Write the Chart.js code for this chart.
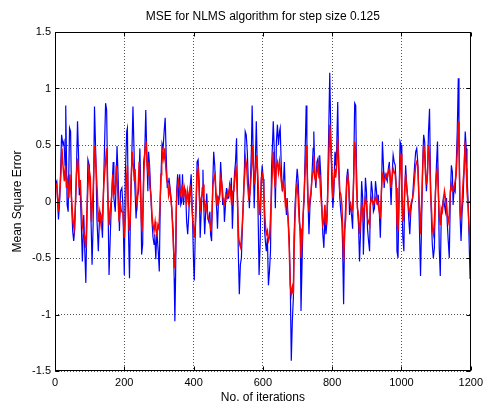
<!DOCTYPE html>
<html>
<head>
<meta charset="utf-8">
<title>MSE for NLMS algorithm</title>
<script src="https://cdn.jsdelivr.net/npm/chart.js@4.4.1/dist/chart.umd.min.js"></script>
<style>
  body { margin: 0; background: #fff; }
  #wrap { width: 488px; height: 405px; }
</style>
</head>
<body>
<div id="wrap"><canvas id="mse" width="488" height="405"></canvas></div>
<script>

// Tick positions
var xTicks = [0, 200, 400, 600, 800, 1000, 1200];
var yTicks = [-1.5, -1, -0.5, 0, 0.5, 1, 1.5];

// [iteration, error] - blue trace
var blueMse = [
  [1,0.15],[5,0.18],[10,-0.16],[14,0.03],[19,0.59],[23,0.50],[26,0.53],[29,0.32],[31,0.85],[35,-0.03],
  [38,-0.09],[42,0.65],[45,0.62],[48,-0.03],[51,-0.26],[54,-0.35],[57,-0.24],[61,0.15],[65,0.71],[68,0.41],
  [70,0.06],[72,0.18],[76,-0.21],[79,-0.53],[83,-0.12],[86,-0.44],[89,-0.72],[92,-0.18],[95,0.37],[99,0.32],
  [103,-0.03],[107,-0.56],[110,-0.21],[114,0.84],[118,0.38],[121,-0.15],[125,-0.44],[129,-0.09],[133,-0.12],[137,-0.32],
  [141,0.24],[146,0.87],[149,0.81],[152,0.18],[156,-0.65],[160,-0.26],[164,0.09],[168,0.35],[170,0.03],[174,-0.09],
  [179,0.49],[182,0.24],[186,-0.26],[189,0.09],[193,0.12],[196,-0.03],[200,-0.65],[203,0.24],[207,0.62],[209,0.65],
  [212,-0.26],[215,-0.68],[218,-0.06],[222,0.44],[225,0.84],[228,0.47],[230,0.18],[234,-0.15],[237,0.03],[241,0.09],
  [245,0.47],[248,0.03],[250,-0.47],[253,-0.38],[256,0.35],[259,0.43],[262,0.81],[265,0.41],[268,0.09],[270,0.44],
  [273,0.32],[276,0.09],[280,-0.18],[283,-0.32],[286,-0.38],[288,-0.29],[291,-0.51],[294,-0.26],[298,-0.44],[301,-0.62],
  [304,0.03],[307,0.32],[309,0.51],[312,0.47],[315,0.62],[318,0.74],[321,0.41],[324,0.12],[327,0.18],[329,0.21],
  [332,0.12],[335,0.03],[338,-0.12],[341,-0.26],[344,-0.68],[346,-1.06],[348,-0.68],[351,0.09],[354,0.24],[357,-0.03],
  [360,0.24],[363,-0.03],[366,0.0],[368,0.24],[371,-0.03],[374,0.12],[377,0.09],[380,-0.18],[383,-0.29],[386,-0.12],
  [389,0.09],[393,0.24],[396,-0.03],[400,-0.55],[402,-0.70],[405,-0.26],[408,-0.03],[410,0.35],[413,0.37],[416,0.18],
  [419,-0.32],[422,-0.09],[425,0.12],[427,0.28],[429,0.0],[432,-0.29],[435,-0.09],[438,0.07],[441,-0.15],[444,-0.18],
  [447,-0.09],[449,-0.29],[452,-0.35],[455,0.12],[458,0.44],[461,0.32],[464,0.06],[467,-0.09],[469,-0.24],[472,0.03],
  [475,0.06],[478,0.35],[481,0.18],[484,-0.03],[487,0.03],[489,-0.18],[492,-0.03],[495,0.12],[498,0.03],[501,0.03],
  [504,0.15],[507,0.09],[509,0.21],[512,-0.24],[515,0.03],[518,0.24],[521,0.35],[524,0.56],[527,0.0],[529,-0.44],
  [532,-0.82],[535,-0.56],[538,-0.50],[541,-0.21],[544,0.03],[547,0.32],[549,0.62],[552,0.59],[555,0.44],[558,0.18],
  [561,-0.06],[564,0.18],[567,0.47],[569,0.85],[572,0.44],[575,-0.06],[578,0.32],[581,0.71],[584,0.29],[587,-0.26],
  [589,-0.65],[592,-0.38],[595,0.18],[598,0.32],[601,0.20],[603,0.06],[605,-0.26],[608,-0.38],[610,-0.44],[613,-0.32],
  [616,-0.74],[619,-0.62],[622,-0.44],[625,0.29],[628,0.53],[630,0.71],[633,0.44],[636,-0.06],[639,0.53],[642,0.68],
  [645,0.50],[648,0.62],[650,0.65],[653,0.32],[656,0.09],[659,0.15],[662,0.35],[665,0.03],[668,-0.12],[670,0.03],
  [673,-0.18],[676,-0.32],[679,-0.71],[682,-1.41],[685,-1.06],[688,-0.85],[690,-0.32],[693,-0.03],[696,0.15],[699,0.29],
  [702,0.18],[705,-0.09],[708,-0.32],[710,-0.97],[713,-0.56],[716,-0.15],[719,0.03],[722,0.44],[725,0.85],[727,0.53],
  [730,0.03],[733,-0.29],[736,-0.03],[739,0.06],[742,0.26],[745,0.47],[747,0.62],[750,0.24],[753,0.12],[756,0.35],
  [759,0.38],[762,0.24],[764,0.41],[767,0.24],[770,-0.03],[773,-0.29],[776,-0.41],[779,-0.12],[782,-0.29],[785,-0.18],
  [787,0.12],[790,0.62],[793,1.14],[796,0.62],[799,0.15],[802,-0.06],[805,0.09],[808,0.44],[810,0.32],[813,0.47],
  [816,0.88],[819,0.29],[822,0.03],[825,-0.09],[828,-0.18],[830,-0.38],[833,-0.91],[836,-0.26],[839,-0.03],[842,0.21],
  [845,0.29],[848,0.15],[850,-0.12],[853,0.0],[856,-0.12],[859,-0.24],[862,0.26],[865,0.87],[868,0.85],[870,0.32],
  [873,-0.06],[876,-0.21],[879,-0.53],[882,-0.26],[885,0.18],[888,0.03],[890,-0.47],[893,-0.15],[896,0.21],[899,0.09],
  [902,-0.24],[905,-0.35],[908,-0.44],[910,-0.06],[913,0.18],[916,0.09],[919,-0.09],[922,-0.06],[925,0.18],[928,0.09],
  [930,-0.03],[933,0.06],[936,-0.09],[939,-0.32],[942,0.03],[945,0.53],[948,0.32],[950,0.12],[953,0.24],[956,0.21],
  [959,0.18],[962,0.29],[965,0.35],[968,0.12],[970,-0.03],[973,0.24],[976,0.41],[979,0.35],[982,0.32],[985,0.12],
  [987,-0.44],[990,-0.50],[993,0.03],[996,0.53],[999,0.50],[1001,0.03],[1004,-0.32],[1007,-0.44],[1009,0.03],[1012,0.32],
  [1015,0.15],[1018,0.03],[1021,-0.15],[1024,-0.29],[1027,-0.09],[1029,-0.03],[1032,0.03],[1035,0.18],[1038,0.32],[1041,0.44],
  [1044,0.47],[1047,0.35],[1049,0.18],[1052,-0.26],[1055,-0.66],[1058,-0.21],[1061,0.32],[1064,0.59],[1067,0.53],[1069,0.32],
  [1072,0.09],[1075,0.24],[1078,0.62],[1081,0.82],[1084,0.15],[1087,-0.21],[1089,-0.38],[1092,-0.50],[1095,-0.41],[1098,0.09],
  [1101,0.32],[1104,0.53],[1107,0.03],[1109,-0.41],[1112,-0.66],[1115,-0.09],[1118,-0.06],[1121,0.03],[1124,-0.03],[1127,-0.09],
  [1130,0.03],[1132,-0.18],[1135,-0.35],[1138,-0.50],[1141,0.03],[1144,0.32],[1147,0.26],[1149,-0.03],[1152,0.12],[1155,0.09],
  [1158,0.32],[1161,0.62],[1164,1.09],[1166,0.62],[1169,-0.12],[1172,-0.35],[1175,-0.09],[1178,0.03],[1181,0.32],[1184,0.62],
  [1187,0.47],[1189,0.24],[1192,0.03],[1195,-0.32],[1198,-0.68],[1200,-0.60]
];

// [iteration, error] - red trace
var redMse = [
  [1,0.12],[5,0.15],[10,-0.09],[13,0.06],[17,0.24],[20,0.47],[23,0.32],[27,0.18],[30,0.32],[33,0.12],
  [36,0.18],[40,0.03],[43,0.24],[46,0.09],[49,-0.03],[52,-0.18],[55,-0.24],[58,-0.09],[62,0.24],[65,0.38],
  [68,0.24],[70,0.12],[73,0.19],[76,-0.03],[79,-0.21],[82,-0.26],[86,-0.32],[89,-0.41],[92,-0.09],[95,0.12],
  [98,0.29],[102,0.21],[105,-0.18],[109,0.03],[111,0.18],[115,0.50],[118,0.32],[122,0.09],[125,-0.18],[129,-0.09],
  [133,-0.21],[137,-0.12],[141,0.15],[145,0.32],[149,0.47],[152,0.09],[156,-0.21],[160,-0.06],[164,0.06],[167,0.24],
  [169,0.15],[173,0.06],[177,0.32],[181,0.09],[185,-0.18],[189,-0.03],[192,-0.09],[196,-0.09],[200,-0.32],[203,-0.15],
  [206,0.18],[209,0.32],[211,-0.03],[214,-0.26],[217,-0.18],[220,0.21],[223,0.44],[226,0.32],[229,0.18],[231,0.29],
  [234,0.03],[237,-0.03],[240,0.12],[243,0.35],[246,0.15],[249,-0.15],[251,-0.26],[254,-0.03],[257,0.29],[260,0.47],
  [263,0.53],[266,0.32],[269,0.24],[271,0.35],[274,0.12],[277,0.06],[280,-0.12],[283,-0.21],[286,-0.26],[289,-0.18],
  [291,-0.24],[294,-0.29],[297,-0.21],[300,-0.24],[303,-0.03],[306,0.24],[308,0.32],[311,0.44],[314,0.38],[317,0.47],
  [320,0.29],[323,0.18],[326,0.15],[328,0.06],[331,0.12],[334,0.03],[337,-0.06],[340,-0.26],[343,-0.47],[345,-0.59],
  [348,-0.44],[350,-0.06],[353,0.12],[356,0.18],[359,0.12],[362,0.06],[365,0.09],[367,0.15],[370,0.03],[373,0.12],
  [376,0.06],[379,0.0],[382,0.09],[385,0.0],[388,0.09],[390,0.12],[393,0.03],[396,-0.09],[399,-0.21],[402,-0.32],
  [405,-0.18],[408,0.09],[410,0.26],[413,0.29],[416,0.09],[419,-0.09],[422,0.03],[425,0.06],[428,0.15],[430,0.03],
  [433,-0.06],[436,-0.03],[439,-0.09],[442,-0.15],[445,-0.15],[448,-0.21],[450,-0.26],[453,-0.12],[456,0.15],[459,0.21],
  [462,0.24],[465,0.06],[468,-0.03],[470,0.03],[473,0.0],[476,0.06],[479,0.21],[482,0.15],[485,0.03],[488,-0.03],
  [490,0.0],[493,0.06],[496,0.03],[499,0.09],[502,0.06],[505,0.15],[508,0.03],[510,-0.03],[513,0.09],[516,0.09],
  [519,0.21],[522,0.32],[525,0.15],[528,-0.12],[530,-0.32],[533,-0.38],[536,-0.41],[539,-0.29],[542,-0.12],[545,0.12],
  [548,0.26],[550,0.38],[553,0.32],[556,0.15],[559,0.03],[562,0.06],[565,0.18],[568,0.32],[570,0.50],[573,0.32],
  [576,0.15],[579,0.26],[582,0.41],[585,0.26],[588,0.03],[590,-0.12],[593,-0.03],[596,0.21],[599,0.24],[602,0.15],
  [605,-0.09],[608,-0.24],[610,-0.29],[613,-0.26],[616,-0.35],[619,-0.32],[622,-0.15],[625,0.09],[628,0.32],[630,0.44],
  [633,0.24],[636,0.12],[639,0.32],[642,0.35],[645,0.26],[648,0.35],[650,0.29],[653,0.18],[656,0.12],[659,0.18],
  [662,0.09],[665,-0.03],[668,0.0],[670,-0.06],[673,-0.15],[676,-0.41],[679,-0.74],[682,-0.82],[685,-0.76],[688,-0.82],
  [690,-0.44],[693,-0.12],[696,0.09],[699,0.15],[702,0.03],[705,-0.18],[708,-0.24],[710,-0.50],[713,-0.35],[716,-0.12],
  [719,0.06],[722,0.26],[725,0.50],[727,0.32],[730,0.03],[733,-0.09],[736,0.03],[739,0.09],[742,0.21],[745,0.26],
  [747,0.41],[750,0.21],[753,0.18],[756,0.26],[759,0.32],[762,0.21],[764,0.24],[767,0.06],[770,-0.06],[773,-0.21],
  [776,-0.18],[779,-0.03],[782,-0.21],[785,-0.12],[787,0.03],[790,0.35],[793,0.68],[796,0.47],[799,0.32],[802,0.03],
  [805,0.18],[808,0.29],[810,0.21],[813,0.32],[816,0.56],[819,0.32],[822,0.09],[825,0.06],[828,-0.03],[830,-0.21],
  [833,-0.53],[836,-0.26],[839,-0.15],[842,0.15],[845,0.24],[848,0.12],[850,0.0],[853,-0.03],[856,-0.09],[859,-0.06],
  [862,0.18],[865,0.53],[868,0.44],[870,0.15],[873,-0.06],[876,-0.12],[879,-0.29],[882,-0.18],[885,-0.03],[888,-0.06],
  [890,-0.18],[893,-0.03],[896,0.03],[899,-0.03],[902,-0.15],[905,-0.18],[908,-0.21],[910,-0.03],[913,0.03],[916,0.0],
  [919,-0.03],[922,0.0],[925,0.03],[928,0.0],[930,0.03],[933,-0.03],[936,-0.09],[939,-0.15],[942,0.09],[945,0.24],
  [948,0.21],[950,0.18],[953,0.21],[956,0.24],[959,0.21],[962,0.26],[965,0.29],[968,0.21],[970,0.12],[973,0.21],
  [976,0.29],[979,0.26],[982,0.24],[985,0.12],[987,-0.18],[990,-0.26],[993,0.03],[996,0.32],[999,0.42],[1001,0.15],
  [1004,-0.18],[1007,-0.12],[1009,0.09],[1012,0.24],[1015,0.12],[1018,0.03],[1021,-0.06],[1024,-0.12],[1027,-0.03],[1029,0.0],
  [1032,0.03],[1035,0.09],[1038,0.21],[1041,0.32],[1044,0.35],[1047,0.32],[1049,0.15],[1052,-0.06],[1055,-0.29],[1058,-0.03],
  [1061,0.26],[1064,0.50],[1067,0.41],[1069,0.26],[1072,0.15],[1075,0.24],[1078,0.50],[1081,0.41],[1084,0.09],[1087,-0.09],
  [1089,-0.24],[1092,-0.29],[1095,-0.18],[1098,0.06],[1101,0.24],[1104,0.29],[1107,0.03],[1109,-0.12],[1112,-0.21],[1115,-0.06],
  [1118,-0.09],[1121,0.0],[1124,0.09],[1127,0.03],[1130,-0.06],[1132,-0.12],[1135,-0.18],[1138,-0.12],[1141,0.09],[1144,0.15],
  [1147,0.09],[1149,0.09],[1152,0.12],[1155,0.18],[1158,0.24],[1161,0.44],[1164,0.71],[1166,0.50],[1169,-0.06],[1172,-0.15],
  [1175,0.0],[1178,0.18],[1181,0.29],[1184,0.53],[1187,0.29],[1189,0.09],[1192,-0.03],[1195,-0.21],[1198,-0.35],[1200,-0.41]
];

Chart.defaults.font.family = "'Liberation Sans', Arial, sans-serif";
Chart.defaults.font.size = 11;
Chart.defaults.color = '#000';

// Matlab style box round the axes, with inward ticks on all four sides
var axesBox = {
  id: 'axesBox',
  afterDraw: function (chart) {
    var ctx = chart.ctx;
    var a = chart.chartArea;
    var x = chart.scales.x, y = chart.scales.y;
    var l = Math.round(a.left) + 0.5, r = Math.round(a.right) - 0.5;
    var t = Math.round(a.top) + 0.5, b = Math.round(a.bottom) - 0.5;
    ctx.save();
    ctx.strokeStyle = '#000';
    ctx.lineWidth = 1;
    ctx.beginPath();
    xTicks.forEach(function (v) {
      var px = Math.round(x.getPixelForValue(v)) + 0.5;
      ctx.moveTo(px, b); ctx.lineTo(px, b - 4);
      ctx.moveTo(px, t); ctx.lineTo(px, t + 4);
    });
    yTicks.forEach(function (v) {
      var py = Math.round(y.getPixelForValue(v)) + 0.5;
      ctx.moveTo(l, py); ctx.lineTo(l + 4, py);
      ctx.moveTo(r, py); ctx.lineTo(r - 4, py);
    });
    ctx.stroke();
    ctx.strokeRect(l, t, r - l, b - t);
    ctx.restore();
  }
};

function toPoints(list) {
  return list.map(function (p) { return { x: p[0], y: p[1] }; });
}

new Chart(document.getElementById('mse'), {
  type: 'line',
  data: {
    // red first so that Chart.js paints it over the blue trace
    datasets: [
      {
        label: 'red',
        data: toPoints(redMse),
        borderColor: '#ff0000',
        borderWidth: 1.5,
        pointRadius: 0,
        tension: 0
      },
      {
        label: 'blue',
        data: toPoints(blueMse),
        borderColor: '#0000ff',
        borderWidth: 1.2,
        pointRadius: 0,
        tension: 0
      }
    ]
  },
  options: {
    responsive: false,
    animation: false,
    events: [],
    layout: { padding: { left: 0, right: 13, top: 0, bottom: 0 } },
    plugins: {
      legend: { display: false },
      tooltip: { enabled: false },
      title: {
        display: true,
        fullSize: false,
        text: 'MSE for NLMS algorithm for step size 0.125',
        font: { size: 12, weight: 'normal' },
        padding: { top: 9, bottom: 8.6 }
      }
    },
    scales: {
      x: {
        type: 'linear',
        min: 0,
        max: 1200,
        afterBuildTicks: function (s) { s.ticks = xTicks.map(function (v) { return { value: v }; }); },
        afterFit: function (s) { s.height = 34; },
        ticks: { padding: 5, maxRotation: 0, font: { size: 11 }, callback: function (v) { return String(v); } },
        grid: { color: '#555', drawTicks: false },
        border: { display: false, dash: [1, 2] },
        title: { display: true, text: 'No. of iterations', font: { size: 12 }, padding: { top: 0, bottom: 0 } }
      },
      y: {
        type: 'linear',
        min: -1.5,
        max: 1.5,
        afterBuildTicks: function (s) { s.ticks = yTicks.map(function (v) { return { value: v }; }); },
        afterFit: function (s) { s.width = 55; },
        ticks: { padding: 4, font: { size: 11 }, callback: function (v) { return String(v); } },
        grid: { color: '#555', drawTicks: false },
        border: { display: false, dash: [1, 2] },
        title: { display: true, text: 'Mean Square Error', font: { size: 12 }, padding: { top: 10, bottom: 0 } }
      }
    }
  },
  plugins: [axesBox]
});
</script>
</body>
</html>
